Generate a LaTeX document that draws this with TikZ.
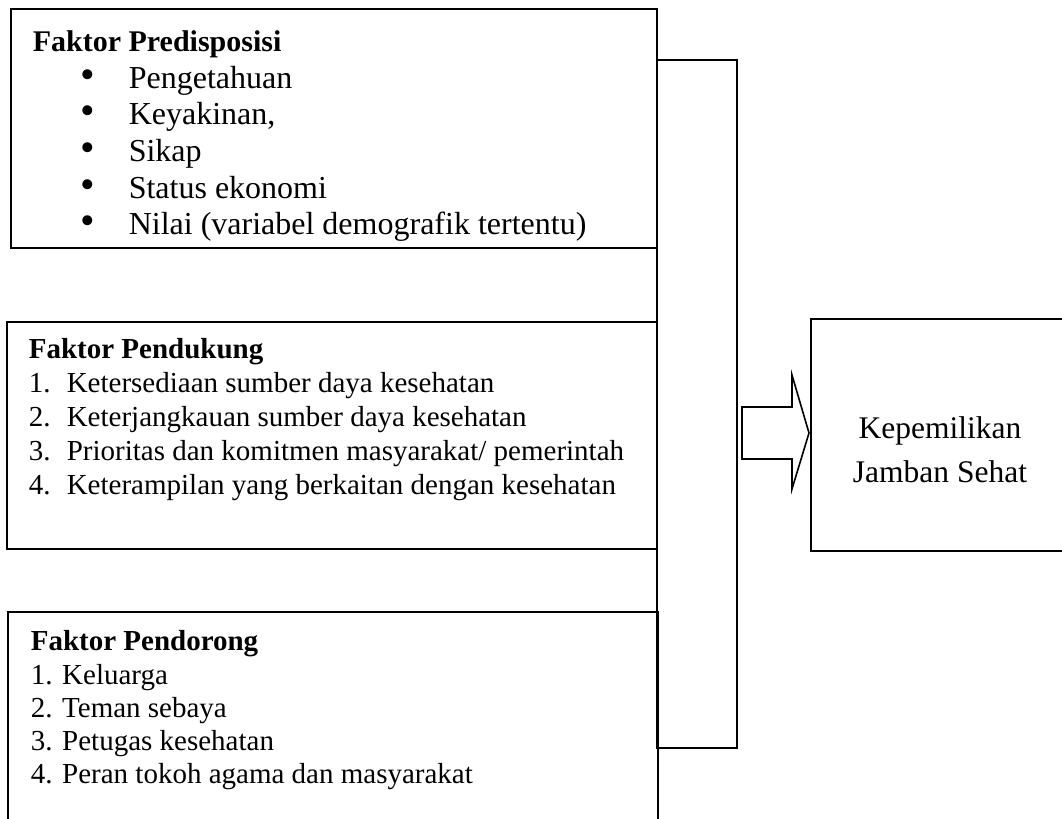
\documentclass[tikz,border=0pt]{standalone}
\usepackage{fontspec}
\setmainfont{Liberation Serif}
\usetikzlibrary{positioning}

\newcommand{\butir}[1]{\hspace*{24pt}\makebox[24pt][l]{\smash{\scalebox{1.3}{\textbullet}}}#1}
\newcommand{\nomor}[2]{\makebox[19pt][l]{#1.}#2}

\begin{document}
\begin{tikzpicture}[x=0.5pt, y=-0.5pt, line width=0.8pt,
    teks/.style={anchor=north west, inner sep=0pt, align=left}]
    \useasboundingbox (0,0) rectangle (1062,819);
    \clip (0,0) rectangle (1062,819);

    \coordinate (predis) at (11,9);
    \coordinate (dukung) at (7,322);
    \coordinate (dorong) at (8,612);

    \coordinate (kolom) at (657,60);
    \coordinate (hasil) at (811,319);


    \draw[] (predis) rectangle +(646,239);
    \node[teks, font=\fontsize{16}{18.3}\selectfont] (predisTeks) at (32,30) {{\fontsize{15}{18.3}\selectfont\textbf{Faktor Predisposisi}}\\
        \butir{Pengetahuan}\\ \butir{Keyakinan,}\\ \butir{Sikap}\\
        \butir{Status ekonomi}\\ \butir{Nilai (variabel demografik tertentu)}};

    \draw[] (dukung) rectangle +(650,227);
    \node[teks, font=\fontsize{14.5}{17}\selectfont] (dukungTeks) at (28,338) {\textbf{Faktor Pendukung}\\
        \nomor{1}{Ketersediaan sumber daya kesehatan}\\
        \nomor{2}{Keterjangkauan sumber daya kesehatan}\\
        \nomor{3}{Prioritas dan komitmen masyarakat/ pemerintah}\\
        \nomor{4}{Keterampilan yang berkaitan dengan kesehatan}};

    \draw[] (dorong) rectangle +(650,230);
    \node[teks, font=\fontsize{14.5}{16.6}\selectfont] (dorongTeks) at (30,630) {\textbf{Faktor Pendorong}\\
        1. Keluarga\\ 2. Teman sebaya\\ 3. Petugas kesehatan\\ 4. Peran tokoh agama dan masyarakat};

    % kolom penghubung
    \draw[] (kolom) rectangle +(80,688);
    \draw[] (kolom)++(85,347) -- ++(50,0) -- ++(0,-32) -- ++(17,58) -- ++(-17,56)
        -- ++(0,-30) -- ++(-50,0) -- cycle;

    \draw[] (hasil) rectangle +(258,232);
    \node[align=center, font=\fontsize{15.75}{22}\selectfont] (hasilTeks) at (940,450) {Kepemilikan\\ Jamban Sehat};

\end{tikzpicture}
\end{document}
